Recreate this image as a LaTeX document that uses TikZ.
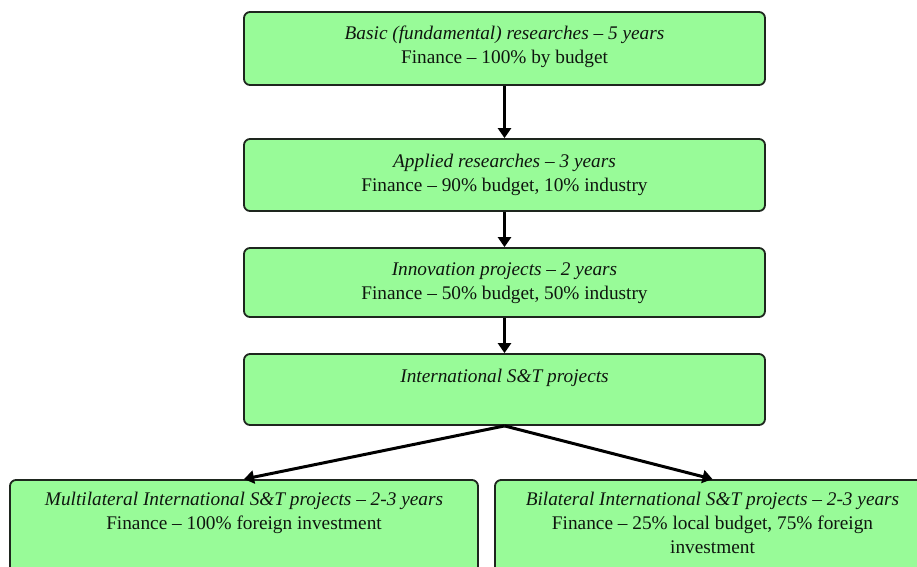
\documentclass[tikz,border=0pt]{standalone}
\usepackage{fontspec}
\setmainfont{Liberation Serif}
\usetikzlibrary{arrows.meta}
\definecolor{boxfill}{RGB}{152,251,152}
\definecolor{boxline}{RGB}{30,38,30}
\definecolor{txt}{RGB}{15,22,15}
\newcommand{\bxt}[4]{\parbox[c][#1][t]{#2}{\centering\rule{0pt}{#3}#4}}
\tikzset{
  stagebox/.style={draw=boxline, fill=boxfill, line width=1.8pt, rounded corners=6pt,
    inner sep=0pt, text=txt, font=\fontsize{19.3}{24}\selectfont},
  flow/.style={line width=3pt, draw=black, -{Triangle[width=13pt,length=10pt]}}
}
\begin{document}
\begin{tikzpicture}[x=1pt,y=-1pt]
\clip (0,0) rectangle (917,566);
\fill[white] (0,0) rectangle (917,566);
\node[stagebox] (b1) at (504.5,48.5) {\bxt{73pt}{521pt}{27pt}{\textit{Basic (fundamental) researches – 5 years}\\Finance – 100\% by budget}};
\node[stagebox] (b2) at (504.5,175) {\bxt{72pt}{521pt}{28pt}{\textit{Applied researches – 3 years}\\Finance – 90\% budget, 10\% industry}};
\node[stagebox] (b3) at (504.5,282.5) {\bxt{69pt}{521pt}{27pt}{\textit{Innovation projects – 2 years}\\Finance – 50\% budget, 50\% industry}};
\node[stagebox] (b4) at (504.5,389.5) {\bxt{71pt}{521pt}{28pt}{\textit{International S\&T projects}}};
\node[stagebox] (b5) at (244,540) {\bxt{120pt}{468pt}{25pt}{\textit{Multilateral International S\&T projects – 2-3 years}\\Finance – 100\% foreign investment}};
\node[stagebox] (b6) at (712.5,540) {\bxt{120pt}{435pt}{25pt}{\textit{Bilateral International S\&T projects – 2-3 years}\\Finance – 25\% local budget, 75\% foreign\\investment}};
\draw[flow] (b1.south) -- (b2.north);
\draw[flow] (b2.south) -- (b3.north);
\draw[flow] (b3.south) -- (b4.north);
\draw[flow] (b4.south) -- (b5.north);
\draw[flow] (b4.south) -- (b6.north);
\end{tikzpicture}
\end{document}
